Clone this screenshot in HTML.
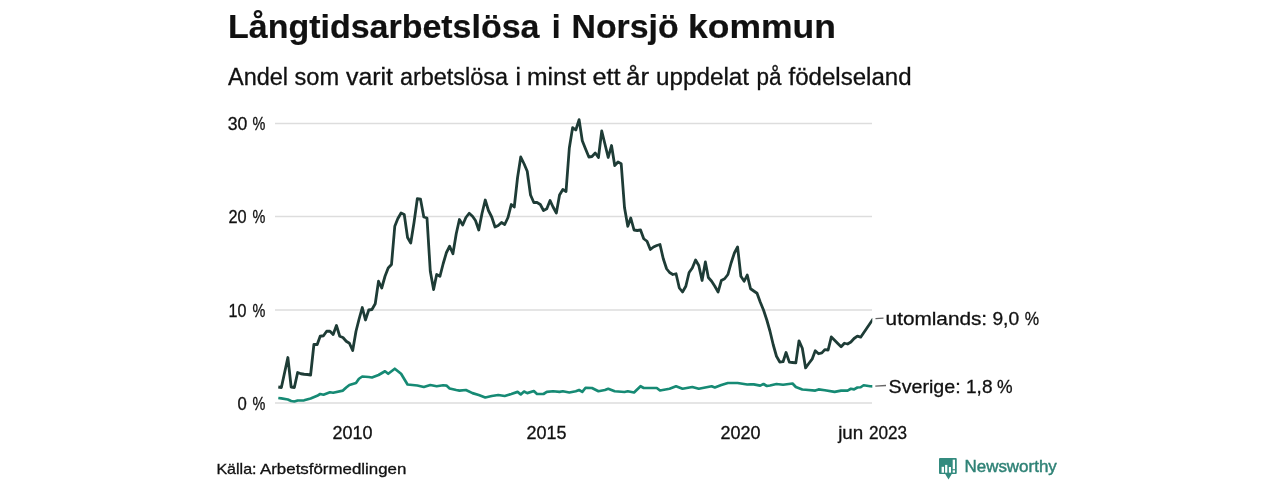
<!DOCTYPE html>
<html><head><meta charset="utf-8"><style>
html,body{margin:0;padding:0;background:#fff;width:1280px;height:480px;overflow:hidden}
svg{display:block;will-change:transform}
text{font-family:"Liberation Sans",sans-serif;fill:#111111;stroke:#111111;stroke-width:0.3px}
.nw{fill:#2f8276;stroke:#2f8276;stroke-width:0.45px}
.ttl text{stroke-width:0.2px}
</style></head><body>
<svg width="1280" height="480" viewBox="0 0 1280 480">
<rect width="1280" height="480" fill="#fff"/>
<g class="ttl" font-size="33.6" font-weight="bold"><text x="228.0" y="38" textLength="311.51" lengthAdjust="spacingAndGlyphs">Långtidsarbetslösa</text><text x="551.75" y="38" textLength="8.89" lengthAdjust="spacingAndGlyphs">i</text><text x="571.5" y="38" textLength="107.09" lengthAdjust="spacingAndGlyphs">Norsjö</text><text x="688.0" y="38" textLength="147.83" lengthAdjust="spacingAndGlyphs">kommun</text></g>
<g font-size="23"><text x="228.0" y="85" textLength="60.02" lengthAdjust="spacingAndGlyphs">Andel</text><text x="294.5" y="85" textLength="44.59" lengthAdjust="spacingAndGlyphs">som</text><text x="346.0" y="85" textLength="47.01" lengthAdjust="spacingAndGlyphs">varit</text><text x="400.0" y="85" textLength="108.0" lengthAdjust="spacingAndGlyphs">arbetslösa</text><text x="515.5" y="85" textLength="5.47" lengthAdjust="spacingAndGlyphs">i</text><text x="527.0" y="85" textLength="59.03" lengthAdjust="spacingAndGlyphs">minst</text><text x="592.5" y="85" textLength="28.05" lengthAdjust="spacingAndGlyphs">ett</text><text x="626.0" y="85" textLength="23.08" lengthAdjust="spacingAndGlyphs">år</text><text x="656.0" y="85" textLength="93.01" lengthAdjust="spacingAndGlyphs">uppdelat</text><text x="756.5" y="85" textLength="25.02" lengthAdjust="spacingAndGlyphs">på</text><text x="788.5" y="85" textLength="123.03" lengthAdjust="spacingAndGlyphs">födelseland</text></g>
<g stroke="#dddddd" stroke-width="1.5">
<line x1="275" y1="123.4" x2="872" y2="123.4"/>
<line x1="275" y1="216.6" x2="872" y2="216.6"/>
<line x1="275" y1="309.9" x2="872" y2="309.9"/>
<line x1="275" y1="403.1" x2="872" y2="403.1"/>
</g>
<g><text x="227.8" y="130" font-size="17.6" textLength="19.61" lengthAdjust="spacingAndGlyphs">30</text><text x="252.6" y="130" font-size="17.6" textLength="12.85" lengthAdjust="spacingAndGlyphs">%</text><text x="228.4" y="223.2" font-size="17.6" textLength="18.13" lengthAdjust="spacingAndGlyphs">20</text><text x="252.6" y="223.2" font-size="17.6" textLength="12.85" lengthAdjust="spacingAndGlyphs">%</text><text x="228.6" y="316.5" font-size="17.6" textLength="17.89" lengthAdjust="spacingAndGlyphs">10</text><text x="252.6" y="316.5" font-size="17.6" textLength="12.85" lengthAdjust="spacingAndGlyphs">%</text><text x="237.6" y="409.7" font-size="17.6" textLength="9.29" lengthAdjust="spacingAndGlyphs">0</text><text x="252.6" y="409.7" font-size="17.6" textLength="12.85" lengthAdjust="spacingAndGlyphs">%</text></g>
<g font-size="17.6" text-anchor="middle">
<text x="352.5" y="438.7" textLength="40" lengthAdjust="spacingAndGlyphs">2010</text>
<text x="546.5" y="438.7" textLength="40" lengthAdjust="spacingAndGlyphs">2015</text>
<text x="740.6" y="438.7" textLength="40" lengthAdjust="spacingAndGlyphs">2020</text>
</g><text x="838.2" y="438.7" font-size="17.6" textLength="25.1" lengthAdjust="spacingAndGlyphs">jun</text><text x="869.0" y="438.7" font-size="17.6" textLength="38.11" lengthAdjust="spacingAndGlyphs">2023</text><g>
</g>
<defs><clipPath id="pc"><rect x="270" y="100" width="602.3" height="320"/></clipPath></defs>
<g clip-path="url(#pc)">
<path d="M278.30,398.00 L281.38,398.40 L287.87,399.50 L291.16,401.00 L294.35,401.50 L297.64,400.50 L304.13,400.30 L310.61,398.50 L317.20,395.80 L320.18,394.00 L323.47,394.75 L329.96,392.25 L333.15,392.75 L342.92,390.60 L346.22,387.50 L349.41,385.00 L356.00,383.00 L358.97,378.75 L362.27,376.50 L368.75,377.00 L371.94,377.50 L378.53,375.00 L385.02,371.25 L388.20,373.75 L394.79,368.75 L401.06,373.75 L407.55,384.50 L417.33,385.50 L423.81,387.00 L430.29,385.00 L436.67,386.25 L443.16,385.25 L446.45,385.60 L449.64,388.50 L456.23,390.00 L459.42,390.60 L465.90,390.00 L472.49,393.10 L478.76,395.00 L485.25,397.50 L491.73,396.00 L498.21,395.00 L504.70,396.00 L511.29,394.00 L517.56,391.90 L520.75,394.40 L524.04,391.50 L527.23,393.10 L533.82,391.00 L537.01,394.00 L543.49,394.00 L546.79,391.90 L553.06,391.25 L559.54,391.90 L562.84,391.25 L569.32,392.50 L575.81,391.25 L579.10,390.00 L582.29,391.90 L585.58,387.75 L591.96,388.00 L598.45,391.25 L604.93,390.00 L608.22,388.75 L614.71,391.25 L624.49,392.00 L627.78,391.25 L634.05,392.50 L640.54,386.25 L643.73,388.00 L656.80,388.00 L659.99,390.50 L669.55,388.75 L676.04,386.25 L682.52,388.75 L692.30,387.00 L698.78,388.75 L711.64,386.25 L714.83,387.50 L721.32,385.00 L727.91,383.00 L737.58,383.00 L747.25,384.50 L750.55,384.40 L753.74,384.40 L760.22,385.60 L763.51,384.00 L766.81,386.00 L770.00,385.50 L776.48,384.00 L783.07,384.75 L792.53,383.50 L795.83,387.00 L802.31,389.50 L805.60,389.75 L815.28,390.60 L818.57,389.40 L824.84,390.25 L834.62,391.90 L841.11,390.60 L847.59,390.60 L850.88,388.75 L854.07,389.40 L857.37,387.50 L860.66,387.25 L863.64,385.25 L870.12,386.25 L873.42,386.50" fill="none" stroke="#168a74" stroke-width="2.7" stroke-linejoin="round"/>
<path d="M278.30,387.00 L281.38,387.50 L287.87,357.50 L291.16,387.00 L294.35,387.50 L297.64,372.50 L300.94,373.75 L304.13,374.25 L307.42,374.50 L310.61,375.00 L313.91,344.50 L317.20,344.50 L320.18,336.25 L323.47,335.75 L326.66,331.25 L329.96,331.25 L333.15,334.50 L336.44,325.50 L339.74,336.25 L342.92,337.50 L346.22,341.25 L349.41,343.25 L352.70,350.50 L356.00,331.25 L358.97,319.50 L362.27,307.50 L365.46,320.00 L368.75,310.00 L371.94,309.50 L375.24,303.75 L378.53,281.25 L381.72,288.00 L385.02,276.25 L388.20,268.00 L391.50,264.50 L394.79,226.25 L397.77,218.75 L401.06,213.00 L404.25,214.50 L407.55,237.50 L410.74,243.00 L414.03,222.50 L417.33,198.75 L420.52,199.25 L423.81,217.00 L427.00,218.00 L430.29,271.25 L433.59,289.50 L436.67,274.50 L439.97,276.25 L443.16,263.75 L446.45,252.50 L449.64,246.25 L452.93,253.75 L456.23,233.75 L459.42,219.50 L462.71,225.00 L465.90,217.50 L469.20,213.25 L472.49,216.25 L475.47,220.50 L478.76,230.00 L481.95,213.75 L485.25,200.00 L488.44,210.50 L491.73,217.00 L495.03,227.00 L498.21,225.50 L501.51,222.50 L504.70,224.50 L507.99,217.50 L511.29,204.50 L514.26,207.00 L517.56,177.50 L520.75,157.00 L524.04,163.75 L527.23,171.25 L530.53,195.00 L533.82,202.50 L537.01,202.50 L540.30,204.50 L543.49,210.50 L546.79,208.75 L550.08,200.50 L553.06,207.00 L556.35,213.00 L559.54,195.00 L562.84,189.50 L566.03,191.50 L569.32,148.00 L572.62,127.60 L575.81,130.00 L579.10,119.60 L582.29,140.75 L585.58,149.00 L588.88,157.00 L591.96,156.50 L595.26,153.00 L598.45,157.50 L601.74,131.00 L604.93,144.00 L608.22,157.50 L611.52,145.50 L614.71,165.50 L618.00,162.00 L621.19,163.75 L624.49,207.50 L627.78,226.25 L630.76,218.00 L634.05,230.00 L637.24,230.50 L640.54,230.00 L643.73,238.75 L647.02,241.25 L650.32,249.50 L653.50,247.00 L656.80,245.50 L659.99,244.50 L663.28,258.75 L666.58,268.75 L669.55,272.50 L672.85,274.50 L676.04,273.75 L679.33,288.00 L682.52,292.00 L685.82,286.25 L689.11,272.50 L692.30,268.00 L695.59,260.00 L698.78,265.50 L702.08,280.50 L705.37,262.00 L708.35,277.50 L711.64,281.25 L714.83,286.25 L718.13,292.00 L721.32,280.50 L724.61,278.75 L727.91,274.50 L731.10,263.00 L734.39,253.00 L737.58,247.00 L740.87,276.25 L744.17,281.25 L747.25,275.00 L750.55,288.75 L753.74,291.00 L757.03,293.25 L760.22,302.00 L763.51,310.00 L766.81,320.00 L770.00,331.25 L773.29,345.00 L776.48,356.25 L779.78,362.00 L783.07,361.70 L786.05,352.50 L789.34,362.10 L792.53,362.50 L795.83,362.90 L799.01,340.80 L802.31,348.30 L805.60,367.90 L808.79,363.50 L812.09,359.20 L815.28,350.80 L818.57,353.75 L821.87,352.90 L824.84,349.60 L828.14,350.00 L831.33,336.90 L834.62,340.20 L837.81,343.50 L841.11,346.80 L844.40,343.25 L847.59,344.00 L850.88,342.00 L854.07,338.50 L857.37,336.10 L860.66,337.20 L873.42,318.50" fill="none" stroke="#1e3c36" stroke-width="2.8" stroke-linejoin="round"/>
</g>
<g stroke="#666" stroke-width="1.3">
<line x1="875.5" y1="318.6" x2="883.5" y2="318.2"/>
<line x1="875.3" y1="386.1" x2="886" y2="385.5"/>
</g>
<g><text x="885.6" y="325.3" font-size="19" textLength="101.54" lengthAdjust="spacingAndGlyphs">utomlands:</text><text x="992.4" y="325.3" font-size="19" textLength="26.72" lengthAdjust="spacingAndGlyphs">9,0</text><text x="1024.8" y="325.3" font-size="19" textLength="14.35" lengthAdjust="spacingAndGlyphs">%</text><text x="888.6" y="392.7" font-size="19" textLength="72.09" lengthAdjust="spacingAndGlyphs">Sverige:</text><text x="966.0" y="392.7" font-size="19" textLength="26.48" lengthAdjust="spacingAndGlyphs">1,8</text><text x="997.0" y="392.7" font-size="19" textLength="15.59" lengthAdjust="spacingAndGlyphs">%</text></g>
<text x="216.4" y="473.8" font-size="15" textLength="40.13" lengthAdjust="spacingAndGlyphs">Källa:</text><text x="260.0" y="473.8" font-size="15" textLength="146.29" lengthAdjust="spacingAndGlyphs">Arbetsförmedlingen</text>
<g fill="#348b7f">
<path d="M939,459 q0,-1 1,-1 h15.75 q1,0 1,1 v14 q0,1 -1,1 h-3.95 l-3.3,5.6 l-3.3,-5.6 h-5.2 q-1,0 -1,-1 z"/>
</g>
<g fill="#fff">
<rect x="941.6" y="466.8" width="2.4" height="5.9"/>
<rect x="945.1" y="464.9" width="2.2" height="7.8"/>
<rect x="948.9" y="467" width="2.1" height="5.7"/>
<rect x="952.7" y="459.7" width="2.3" height="9.5"/>
<rect x="952.7" y="470.3" width="2.3" height="2.3"/>
</g>
<text class="nw" x="964.5" y="471.8" font-size="17" textLength="92.3" lengthAdjust="spacingAndGlyphs">Newsworthy</text>
</svg>
</body></html>
